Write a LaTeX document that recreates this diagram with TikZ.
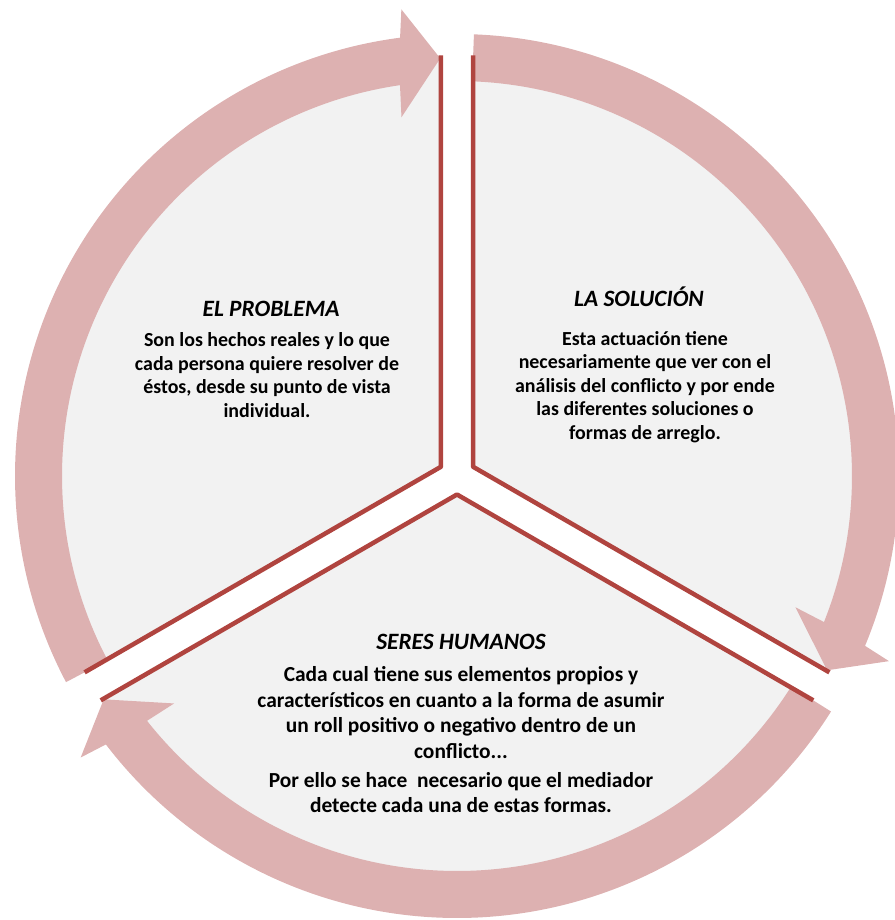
\documentclass[tikz,border=0pt]{standalone}
\usepackage{fontspec}
\setmainfont{Carlito}
\usepackage{tikz}

\definecolor{sectorgray}{HTML}{F2F2F2}
\definecolor{arrowpink}{HTML}{DDB1B1}
\definecolor{edgered}{HTML}{B0443F}

\begin{document}
\begin{tikzpicture}[x=1bp,y=1bp,sector/.style={fill=sectorgray,draw=none},cycle arrow/.style={fill=arrowpink,draw=none},edge line/.style={draw=edgered,line width=4.5bp,line join=round},title text/.style={font=\fontsize{23.5}{28}\selectfont\bfseries\itshape,inner sep=0pt,anchor=base},body text/.style={font=\fontsize{20}{23.6}\selectfont\bfseries,align=center,inner sep=0pt}]
		
		\useasboundingbox (-457,-444) rectangle (438,476);
		
		% inner corners of the three sectors
		\coordinate (cProb) at (150:18.5);
		\coordinate (cSol) at (30:18.5);
		\coordinate (cSer) at (270:18.5);
		\coordinate (probTop) at (92.2:421);
		\coordinate (probLow) at (207.8:421);
		\coordinate (solTop) at (87.8:421);
		\coordinate (solLow) at (-27.8:421);
		\coordinate (serLeft) at (212.2:421);
		\coordinate (serRight) at (327.8:421);
		
		\path[sector] (cProb) -- (probTop) arc[start angle=92.2, end angle=207.8, radius=421] -- cycle;
		\path[sector] (cSol) -- (solTop) arc[start angle=87.8, end angle=-27.8, radius=421] -- cycle;
		\path[sector] (cSer) -- (serLeft) arc[start angle=212.2, end angle=327.8, radius=421] -- cycle;
		
		% curved arrows, clockwise
		\path[cycle arrow] (207.8:442) arc[start angle=207.8, end angle=97.4, radius=442] -- (96.8:470) -- (92.3:418) -- (98.8:363) -- (98.3:395) arc[start angle=98.3, end angle=207.8, radius=395] -- cycle;
		\path[cycle arrow] (87.8:442) arc[start angle=87.8, end angle=-22.6, radius=442] -- (-23.2:470) -- (-27.7:418) -- (-21.2:363) -- (-21.7:395) arc[start angle=-21.7, end angle=87.8, radius=395] -- cycle;
		\path[cycle arrow] (327.8:442) arc[start angle=327.8, end angle=217.4, radius=442] -- (216.8:470) -- (212.3:418) -- (218.8:363) -- (218.3:395) arc[start angle=218.3, end angle=327.8, radius=395] -- cycle;
		
		\draw[edge line] (probTop) -- (cProb) -- (probLow);
		\draw[edge line] (solTop) -- (cSol) -- (solLow);
		\draw[edge line] (serLeft) -- (cSer) -- (serRight);
		
		\node[title text] (probTitle) at (-186,159) {EL PROBLEMA};
		\node[body text] (probText) at (-190,101) {Son los hechos reales y lo que\\cada persona quiere resolver de\\éstos, desde su punto de vista\\individual.};
		
		\node[title text] (solTitle) at (182,169) {LA SOLUCIÓN};
		\node[body text] (solText) at (188,89) {Esta actuación tiene\\necesariamente que ver con el\\análisis del conflicto y por ende\\las diferentes soluciones o\\formas de arreglo.};
		
		\node[title text] (serTitle) at (4,-173) {SERES HUMANOS};
		\node[body text, font=\fontsize{21.5}{25.5}\selectfont\bfseries] (serText) at (4,-264) {Cada cual tiene sus elementos propios y\\característicos en cuanto a la forma de asumir\\un roll positivo o negativo dentro de un\\conflicto...\\[4bp]Por ello se hace\ \ necesario que el mediador\\detecte cada una de estas formas.};
		
		\end{tikzpicture}
\end{document}
